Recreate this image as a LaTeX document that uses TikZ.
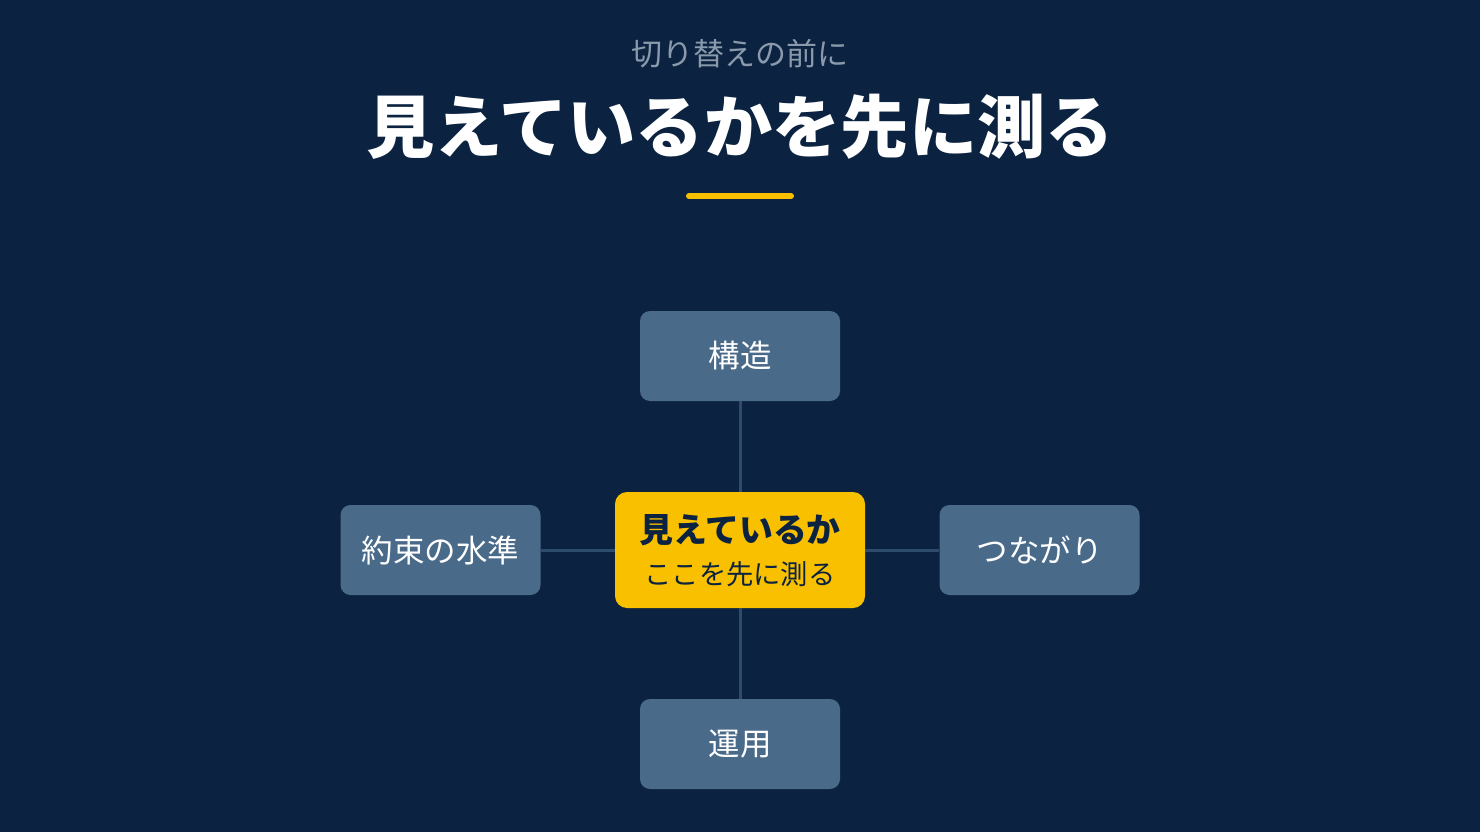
\documentclass[tikz,border=0pt]{standalone}
\usepackage{fontspec}
\newfontfamily\jp{Noto Sans CJK JP}
\definecolor{bg}{HTML}{0B2340}
\definecolor{boxc}{HTML}{4A6A8A}
\definecolor{yel}{HTML}{F9C000}
\definecolor{linec}{HTML}{2E4D6E}
\definecolor{subc}{HTML}{8A9AAC}
\tikzset{
  leaf/.style={fill=boxc, rounded corners=10pt, minimum width=200pt, minimum height=90pt, inner sep=0pt, text=white, font=\jp\fontsize{31.5}{34}\selectfont},
  hub/.style={fill=yel, rounded corners=12pt, minimum width=250pt, minimum height=116pt, inner sep=0pt, text=bg, align=center},
  conn/.style={draw=linec, line width=3pt}
}
\begin{document}
\begin{tikzpicture}[x=1pt,y=-1pt]
\fill[bg] (0,0) rectangle (1480,832);
\useasboundingbox (0,0) rectangle (1480,832);
\node[text=subc, font=\jp\fontsize{31}{34}\selectfont] (sub) at (740,54) {切り替えの前に};
\node[text=white, font=\jp\bfseries\fontsize{68.3}{74}\selectfont] (title) at (740,127) {見えているかを先に測る};
\coordinate (ul1) at (689,196);
\coordinate (ul2) at (791,196);
\draw[yel, line width=6pt, line cap=round] (ul1) -- (ul2);
\node[hub] (c) at (740,550) {};
\node[leaf] (t) at (740,356) {構造};
\node[leaf] (l) at (440.5,550) {約束の水準};
\node[leaf] (r) at (1039.5,550) {つながり};
\node[leaf] (b) at (740,744) {運用};
\draw[conn] (t.south) -- (c.north);
\draw[conn] (b.north) -- (c.south);
\draw[conn] (l.east) -- (c.west);
\draw[conn] (r.west) -- (c.east);
\node[text=bg, font=\jp\bfseries\fontsize{33.9}{37}\selectfont] (c1) at (740,530) {見えているか};
\node[text=bg, font=\jp\fontsize{27.3}{30}\selectfont] (c3) at (740,574) {ここを先に測る};
\end{tikzpicture}
\end{document}
